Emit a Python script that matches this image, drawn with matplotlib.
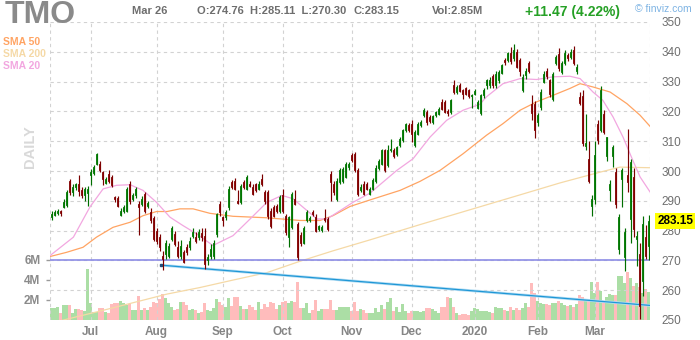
import matplotlib.pyplot as plt
import matplotlib.transforms as mtransforms
import numpy as np

plt.rcParams['font.family'] = ['Liberation Sans', 'DejaVu Sans']

# TMO daily candles, Jun 12 2019 .. Mar 26 2020 (200 sessions)
opens = [
    284.5, 285.4, 285.8, 286.5, 288.0, 288.5, 296.8, 293.0, 294.6, 295.5,
    293.5, 292.0, 292.5, 298.5, 299.2, 302.5, 302.4, 299.5, 296.0, 299.0,
    298.0, 291.2, 291.0, 285.4, 286.7, 286.7, 295.7, 290.7, 291.8, 289.0,
    289.0, 292.3, 288.2, 286.2, 284.3, 280.0, 277.8, 271.5, 272.2, 271.6,
    277.2, 278.9, 274.6, 271.6, 272.7, 274.6, 274.4, 278.3, 278.0, 277.8,
    279.2, 278.3, 270.1, 271.6, 271.6, 278.9, 289.0, 284.5, 284.5, 287.9,
    296.3, 296.8, 290.1, 289.5, 296.3, 294.0, 295.7, 294.6, 295.7, 294.0,
    297.4, 292.9, 292.9, 286.7, 287.9, 288.4, 286.7, 291.8, 285.0, 277.8,
    281.1, 290.7, 282.3, 278.6, 276.0, 283.4, 283.4, 286.4, 284.5, 280.6,
    280.3, 284.3, 283.9, 299.1, 295.7, 290.7, 296.3, 296.8, 298.0, 301.3,
    305.3, 305.8, 300.2, 293.5, 295.7, 295.7, 292.3, 294.0, 296.5, 301.0,
    302.4, 306.9, 301.9, 306.9, 307.1, 305.8, 308.6, 310.3, 313.6, 315.3,
    315.9, 308.6, 312.5, 315.3, 318.7, 319.8, 318.1, 316.4, 318.7, 319.2,
    323.2, 323.2, 320.1, 319.8, 328.8, 326.5, 328.8, 327.1, 327.7, 327.1,
    325.1, 326.0, 321.3, 319.5, 325.4, 328.8, 329.0, 331.8, 328.8, 330.5,
    333.0, 337.4, 337.2, 339.7, 337.8, 340.0, 337.4, 327.1, 332.2, 336.3,
    322.6, 322.4, 316.4, 321.5, 329.9, 333.6, 330.5, 324.3, 336.1, 339.4,
    333.3, 336.3, 338.8, 338.1, 340.6, 333.6, 324.9, 325.1, 308.3, 304.1,
    288.4, 290.7, 315.9, 313.6, 319.2, 305.0, 293.7, 305.2, 299.6, 273.8,
    297.4, 271.0, 298.5, 283.9, 297.9, 277.2, 272.2, 263.2, 277.8, 274.76,
]
highs = [
    286.5, 287.0, 287.4, 287.0, 290.5, 293.5, 297.4, 295.5, 296.0, 298.5,
    294.5, 294.5, 294.8, 300.8, 302.0, 306.0, 303.2, 300.0, 298.0, 300.3,
    298.6, 291.5, 291.5, 287.5, 288.5, 294.6, 296.5, 292.5, 294.6, 290.0,
    291.5, 293.0, 290.0, 287.5, 285.0, 281.0, 279.0, 273.0, 277.0, 276.0,
    281.5, 280.0, 276.5, 276.8, 273.5, 275.5, 278.0, 281.0, 279.5, 280.5,
    281.0, 281.0, 272.0, 275.5, 276.8, 286.0, 290.1, 285.0, 287.0, 294.8,
    297.0, 297.5, 293.5, 295.8, 297.0, 298.8, 296.5, 295.5, 296.0, 296.5,
    299.1, 293.5, 293.5, 287.5, 288.5, 289.0, 292.0, 294.0, 285.5, 285.0,
    293.0, 293.7, 283.0, 279.5, 281.5, 287.0, 285.0, 287.0, 285.5, 282.0,
    282.0, 287.3, 284.5, 300.0, 296.5, 297.5, 301.0, 301.5, 303.0, 303.0,
    306.0, 306.5, 301.0, 295.5, 296.5, 296.3, 294.6, 297.5, 302.0, 304.0,
    307.5, 307.5, 308.6, 310.8, 307.8, 308.5, 311.5, 314.0, 316.2, 316.0,
    317.0, 313.6, 316.5, 317.0, 321.0, 320.5, 318.8, 318.9, 320.3, 321.5,
    324.0, 323.8, 320.8, 324.2, 330.5, 328.8, 329.5, 327.6, 328.2, 327.5,
    326.0, 327.5, 323.8, 326.0, 328.0, 331.0, 331.5, 332.5, 333.5, 334.0,
    336.0, 338.0, 340.0, 341.5, 342.5, 341.0, 338.0, 332.5, 334.5, 337.0,
    325.4, 323.5, 319.5, 327.5, 333.5, 334.5, 331.0, 333.3, 339.0, 341.2,
    337.0, 340.5, 339.5, 340.8, 342.0, 335.8, 326.5, 327.1, 319.0, 310.0,
    292.0, 310.0, 317.0, 328.5, 320.5, 311.5, 297.0, 308.6, 301.0, 285.5,
    301.0, 281.0, 314.2, 304.0, 301.0, 280.0, 276.0, 285.0, 282.0, 285.11,
]
lows = [
    283.5, 284.8, 285.3, 285.0, 287.5, 288.0, 291.8, 291.5, 293.5, 291.5,
    290.8, 290.1, 288.4, 295.2, 298.5, 302.0, 299.5, 295.2, 295.5, 296.0,
    294.5, 289.5, 288.0, 284.8, 285.8, 286.2, 289.0, 290.0, 291.0, 278.5,
    288.3, 286.0, 287.5, 282.5, 276.5, 275.5, 273.0, 266.8, 270.5, 270.8,
    276.5, 274.8, 270.8, 270.4, 269.0, 271.8, 273.5, 277.5, 276.0, 277.0,
    276.5, 267.2, 268.5, 270.5, 270.5, 278.0, 285.0, 281.7, 283.5, 287.0,
    294.0, 293.5, 289.0, 289.0, 294.0, 293.5, 294.5, 291.8, 293.0, 293.5,
    295.0, 289.0, 284.0, 281.0, 284.5, 286.0, 286.0, 286.0, 278.5, 274.4,
    280.5, 288.5, 270.1, 275.0, 275.5, 282.8, 283.0, 285.0, 279.5, 280.0,
    279.5, 283.0, 280.0, 290.1, 292.0, 290.0, 295.5, 296.0, 297.5, 300.5,
    303.0, 299.5, 291.5, 292.8, 291.8, 293.5, 291.8, 293.5, 296.0, 300.5,
    302.0, 299.8, 301.5, 306.3, 304.5, 305.2, 308.0, 309.8, 313.0, 313.0,
    309.7, 308.0, 312.0, 314.8, 318.2, 315.3, 316.2, 315.8, 318.2, 318.7,
    320.5, 319.3, 318.5, 319.2, 326.0, 326.0, 326.4, 324.0, 325.5, 324.6,
    321.0, 325.5, 320.8, 318.9, 324.5, 327.5, 328.0, 328.0, 328.0, 329.5,
    332.5, 335.5, 336.5, 336.0, 337.0, 334.5, 332.0, 326.5, 331.0, 333.0,
    317.0, 311.2, 315.0, 320.5, 329.5, 331.0, 325.0, 323.5, 335.5, 333.5,
    332.5, 335.5, 337.0, 337.5, 335.5, 332.5, 322.0, 308.5, 307.0, 296.0,
    285.0, 289.0, 309.0, 313.0, 312.5, 303.5, 290.0, 301.3, 287.7, 272.0,
    288.0, 266.5, 293.0, 276.0, 278.0, 268.0, 250.3, 258.0, 270.5, 270.30,
]
closes = [
    285.5, 286.2, 286.5, 285.8, 289.6, 292.9, 293.0, 294.6, 295.6, 293.3,
    291.8, 294.0, 294.0, 299.6, 301.2, 305.6, 300.2, 297.4, 297.4, 296.8,
    295.2, 290.5, 288.4, 286.6, 287.9, 294.0, 290.1, 291.8, 294.0, 287.9,
    290.7, 286.7, 289.2, 283.4, 277.2, 276.6, 274.4, 270.6, 275.7, 274.9,
    280.8, 275.5, 271.6, 274.9, 269.4, 272.7, 276.6, 279.4, 276.6, 279.4,
    277.8, 268.8, 271.0, 273.8, 276.0, 285.6, 286.2, 283.4, 286.2, 294.0,
    294.6, 294.0, 289.3, 295.1, 294.6, 298.0, 295.1, 292.3, 293.5, 295.7,
    295.7, 290.1, 285.0, 281.7, 285.0, 286.7, 291.2, 286.7, 279.4, 284.5,
    292.3, 289.0, 271.0, 276.0, 280.9, 286.2, 284.3, 285.6, 280.0, 281.4,
    281.2, 283.4, 280.6, 296.3, 292.9, 296.8, 300.2, 300.8, 302.5, 302.4,
    303.6, 300.2, 292.3, 294.6, 292.3, 294.0, 294.0, 297.0, 301.0, 303.5,
    306.9, 300.2, 306.9, 307.5, 305.2, 308.0, 310.8, 313.6, 315.7, 313.6,
    312.5, 313.1, 315.9, 316.4, 320.4, 316.4, 316.8, 318.3, 319.8, 320.9,
    320.9, 319.8, 319.5, 323.7, 326.5, 328.2, 326.9, 326.0, 326.0, 325.1,
    325.5, 326.9, 323.2, 325.4, 327.3, 330.5, 330.5, 328.8, 332.7, 333.3,
    335.5, 336.6, 339.7, 337.0, 340.6, 335.0, 333.6, 331.6, 333.6, 333.6,
    319.5, 313.6, 318.7, 326.5, 332.7, 331.8, 325.8, 332.7, 338.1, 334.4,
    336.1, 339.7, 337.8, 340.0, 336.1, 335.0, 322.8, 309.4, 309.4, 296.8,
    290.7, 305.3, 310.3, 327.1, 313.1, 311.4, 295.7, 308.0, 289.0, 284.5,
    300.2, 279.4, 296.3, 303.0, 280.5, 278.3, 254.8, 282.2, 271.6, 283.15,
]
# volume in millions of shares
volume_m = [
    1.17, 1.23, 1.33, 0.67, 1.5, 1.5, 1.5, 0.73, 1.1, 1.1,
    1.0, 0.93, 5.1, 1.67, 0.83, 0.83, 1.17, 1.23, 0.83, 0.73,
    1.6, 1.67, 1.67, 1.9, 1.67, 1.5, 1.6, 1.0, 1.0, 2.4,
    1.0, 1.17, 1.0, 1.33, 1.83, 1.73, 2.07, 2.57, 2.17, 1.67,
    1.33, 1.0, 1.07, 1.83, 1.77, 1.5, 1.0, 1.07, 1.0, 0.73,
    0.83, 1.67, 1.0, 0.93, 1.17, 2.1, 1.83, 1.5, 1.33, 2.23,
    1.4, 2.3, 2.3, 1.4, 1.07, 1.07, 1.5, 1.33, 1.0, 1.83,
    1.1, 1.57, 1.33, 1.83, 1.67, 1.07, 1.5, 1.83, 1.9, 1.73,
    1.9, 1.77, 3.83, 1.17, 1.17, 1.73, 0.73, 1.0, 2.0, 0.93,
    1.1, 1.07, 1.07, 2.0, 1.0, 1.0, 1.33, 1.27, 1.33, 1.33,
    0.93, 1.83, 0.93, 1.1, 1.0, 0.67, 0.73, 0.73, 1.17, 0.83,
    1.5, 1.1, 1.83, 2.17, 0.93, 1.33, 0.83, 1.57, 0.93, 0.67,
    0.9, 0.9, 0.9, 0.83, 0.93, 1.17, 1.23, 1.07, 0.93, 0.73,
    1.27, 1.33, 2.33, 2.17, 1.33, 0.67, 0.5, 0.6, 0.6, 0.5,
    0.93, 1.17, 1.07, 0.93, 0.93, 0.93, 0.83, 0.67, 1.33, 1.17,
    1.23, 1.0, 0.93, 1.33, 1.0, 1.17, 1.0, 1.17, 1.67, 1.33,
    3.67, 2.67, 1.9, 1.73, 1.6, 1.57, 1.5, 1.73, 1.73, 1.9,
    1.67, 1.5, 1.4, 1.5, 1.33, 1.57, 2.5, 2.33, 2.0, 1.9,
    3.83, 2.67, 3.77, 2.9, 1.83, 2.33, 2.57, 2.5, 2.5, 4.43,
    4.43, 3.73, 4.8, 4.17, 3.4, 3.67, 3.33, 2.67, 3.07, 2.85,
]

month_labels = ["Jul", "Aug", "Sep", "Oct", "Nov", "Dec", "2020", "Feb", "Mar"]
month_starts = [13, 35, 57, 77, 100, 120, 141, 162, 181]

# moving averages as drawn (session index, price)
sma20_days = [-0.5, 7.3, 12.8, 17.2, 21.7, 26.2, 30.5, 35, 39.5, 43.8, 48.4, 53.8,
              60.5, 66.2, 71.8, 76.8, 80.5, 85.2, 88.5, 91.8, 96.2, 100.5, 106.2,
              115.1, 120.5, 126.2, 131.7, 137.2, 142.8, 145, 150.5, 156.2, 161.7,
              167.2, 172.8, 176.2, 180.5, 183.8, 187.2, 190.5, 193.8, 196.2, 199.5]
sma20_vals = [271.6, 277.8, 287.9, 294.0, 295.2, 295.4, 293.5, 289.5, 284.5, 281.7, 278.9, 275.0,
              278.3, 283.9, 289.5, 291.8, 290.7, 286.7, 283.9, 283.9, 286.7, 289.5, 292.6,
              300.2, 304.1, 311.4, 317.0, 320.4, 322.4, 324.9, 329.3, 331.0, 330.7,
              331.6, 331.8, 331.0, 326.5, 323.7, 318.1, 311.4, 303.5, 298.0, 293.0]
sma50_days = [-0.5, 5, 10.5, 15, 20.5, 26.2, 30.5, 35, 38.5, 42.8, 47.2, 52.8, 60.5,
              71.8, 82.8, 89.5, 93.8, 99.5, 106.2, 116.2, 122.8, 129.5, 137.2, 145,
              150.5, 156.2, 161.7, 167.2, 172.8, 176.2, 180.5, 186.2, 191.8, 196.2, 199.5]
sma50_vals = [271.3, 272.7, 274.4, 277.8, 281.1, 282.8, 285.0, 286.4, 286.4, 287.3, 287.3, 285.8, 284.8,
              284.3, 283.4, 283.4, 285.0, 288.1, 290.3, 293.5, 296.5, 300.2, 305.8, 312.0,
              315.9, 320.4, 323.2, 325.4, 327.7, 329.3, 328.2, 326.5, 322.6, 318.7, 315.0]
sma200_days = [-0.5, 2.8, 16.2, 27.2, 38.5, 49.5, 60.5, 71.8, 82.8, 93.8, 106.2,
               122.8, 139.5, 156.2, 169.5, 182.8, 189.5, 199.5]
sma200_vals = [249.3, 249.7, 253.0, 255.8, 258.7, 260.9, 263.4, 265.9, 269.7, 273.2, 276.9,
               282.0, 287.0, 292.0, 296.0, 299.6, 301.3, 301.1]

support_level = 270.0
trend_days = [36.5, 199.5]
trend_prices = [268.4, 254.9]

days = np.arange(len(closes))
o = np.array(opens)
h = np.array(highs)
l = np.array(lows)
c = np.array(closes)
up = c >= o

fig = plt.figure(figsize=(7, 3.4), dpi=100)
ax = fig.add_axes([50 / 700, 20 / 340, 600 / 700, 298 / 340])
axv = ax.twinx()
ax.set_zorder(axv.get_zorder() + 1)
ax.patch.set_visible(False)

# volume underneath
axv.bar(days, volume_m, width=1.0, color=np.where(up, '#abdea5', '#ffbcbc'), linewidth=0)
axv.set_ylim(0, 29.8)
axv.yaxis.tick_left()
axv.set_yticks([2, 4, 6])
axv.set_yticklabels(["2M", "4M", "6M"])
axv.tick_params(axis='y', length=3, width=1, color='#9a9a9a', pad=4,
                labelsize=8.5, labelcolor='#8a8a8a')
for t in axv.get_yticklabels():
    t.set_fontweight('bold')

# grid
dash = (0, (3, 3))
for p in range(260, 351, 10):
    ax.axhline(p, color='#d2d2d2', lw=0.8, ls=dash, zorder=0)
for m in month_starts:
    ax.axvline(m, color='#d2d2d2', lw=0.8, ls=dash, zorder=0)
ax.axvline(-0.5, color='#d2d2d2', lw=0.8, ls=dash, zorder=0)
ax.axvline(199.5, color='#d2d2d2', lw=0.8, ls=dash, zorder=0)

# moving averages
ax.plot(sma200_days, sma200_vals, color='#f5d9a6', lw=0.9, zorder=2)
ax.plot(sma50_days, sma50_vals, color='#ffa463', lw=0.9, zorder=2)
ax.plot(sma20_days, sma20_vals, color='#f2a7e0', lw=0.9, zorder=2)

# horizontal level and trendline
ax.axhline(support_level, color='#8d8de6', lw=1.2, zorder=2)
ax.plot(trend_days, trend_prices, color='#b5def4', lw=2.0, zorder=2, solid_capstyle='butt')
ax.plot(trend_days, trend_prices, color='#1f97d6', lw=0.9, zorder=2)
ax.plot(trend_days[0], trend_prices[0], 's', ms=1.8, color='#234d7a', zorder=3)

# candles
edge = np.where(up, '#006e00', '#7a0000')
ax.vlines(days, l, h, colors=edge, linewidth=0.85, zorder=3)
ax.bar(days, np.maximum(np.abs(c - o), 0.25), bottom=np.minimum(o, c), width=0.62,
       color=np.where(up, '#00d400', '#d40000'), edgecolor=edge, linewidth=0.6, zorder=4)

ax.set_xlim(-0.5, 199.5)
ax.set_ylim(250, 350)
ax.yaxis.tick_right()
ax.set_yticks(range(250, 351, 10))
ax.tick_params(axis='y', length=0, pad=8, labelsize=8.5, labelcolor='#6e6e6e')
ax.set_xticks(month_starts)
ax.set_xticklabels(month_labels)
ax.tick_params(axis='x', length=0, pad=4, labelsize=8.5, labelcolor='#858585')
for t in ax.get_xticklabels():
    t.set_fontweight('bold')
for a in (ax, axv):
    for s in a.spines.values():
        s.set_visible(False)

# last price tag
tr = mtransforms.blended_transform_factory(ax.transAxes, ax.transData)
ax.text(1.012, closes[-1], f"{closes[-1]:.2f}", transform=tr, ha='left', va='center',
        fontsize=8.5, fontweight='bold', color='black', zorder=10, clip_on=False,
        bbox=dict(boxstyle='square,pad=0.18', fc='#ffff00', ec='none'))

# header
def px(x, y):
    return x / 700, 1 - y / 340

fig.text(*px(5, 15), "TMO", fontsize=23, fontweight='bold', color='#8a8a8a', va='center')
fig.text(*px(132, 11), "Mar 26", fontsize=8, fontweight='bold', color='#6e6e6e', va='center')
fig.text(*px(197, 11), "O:274.76  H:285.11  L:270.30", fontsize=8, fontweight='bold',
         color='#6e6e6e', va='center')
fig.text(*px(354, 11), "C:283.15", fontsize=8, fontweight='bold', color='#6e6e6e', va='center')
fig.text(*px(432, 11), "Vol:2.85M", fontsize=8, fontweight='bold', color='#6e6e6e', va='center')
fig.text(*px(525, 12), "+11.47 (4.22%)", fontsize=10, fontweight='bold', color='#25a025', va='center')
fig.text(*px(635, 9), "\u00a9 finviz.com", fontsize=7.5, color='#7db3e3', va='center')

# legend and period label
fig.text(*px(3, 42), "SMA 50", fontsize=7.5, fontweight='bold', color='#ffa463', va='center')
fig.text(*px(3, 54), "SMA 200", fontsize=7.5, fontweight='bold', color='#f5d9a6', va='center')
fig.text(*px(3, 66), "SMA 20", fontsize=7.5, fontweight='bold', color='#f2a7e0', va='center')
fig.text(*px(30, 147), "DAILY", fontsize=10.5, fontweight='bold', color='#d9d9d9',
         rotation=90, ha='center', va='center')

fig.savefig("out.png", dpi=100)
